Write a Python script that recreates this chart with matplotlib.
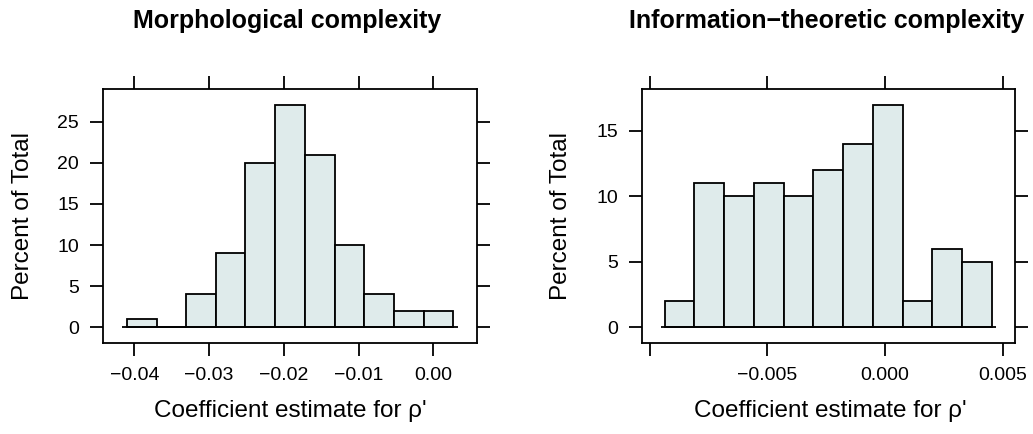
import numpy as np
import matplotlib
matplotlib.use("Agg")
import matplotlib.pyplot as plt

plt.rcParams['font.family'] = ['Liberation Sans', 'DejaVu Sans']

# Datos (porcentaje del total por clase)
morph_edges = [-0.04104, -0.03703, -0.03306, -0.02910, -0.02517, -0.02116,
               -0.01721, -0.01320, -0.00922, -0.00525, -0.00130, 0.00267]
morph_pct = [1, 0, 4, 9, 20, 27, 21, 10, 4, 2, 2]

info_edges = [-0.009349, -0.008116, -0.006829, -0.005567, -0.004305, -0.003047,
              -0.001785, -0.000510, 0.000752, 0.001997, 0.003272, 0.004534]
info_pct = [2, 11, 10, 11, 10, 12, 14, 17, 2, 6, 5]

morph_xticks = [-0.04, -0.03, -0.02, -0.01, 0.00]
morph_xlabels = ["\u22120.04", "\u22120.03", "\u22120.02", "\u22120.01", "0.00"]
morph_yticks = [0, 5, 10, 15, 20, 25]

info_xticks = [-0.010, -0.005, 0.000, 0.005]
info_xlabels = ["", "\u22120.005", "0.000", "0.005"]
info_yticks = [0, 5, 10, 15]

FILL = "#DFEBEB"
W, H = 1033, 434
LW = 1.3


def draw_hist(ax, edges, pct, xlim, ylim, xticks, xlabels, yticks):
    edges = np.asarray(edges)
    widths = np.diff(edges)
    ax.bar(edges[:-1], pct, width=widths, align='edge', color=FILL,
           edgecolor='black', linewidth=LW, zorder=2)
    pad = 0.15 * widths.mean()
    ax.hlines(0, edges[0] - pad, edges[-1] + pad, color='black', lw=LW, zorder=3)
    ax.set_xlim(*xlim)
    ax.set_ylim(*ylim)
    ax.set_xticks(xticks)
    ax.set_xticklabels(xlabels)
    ax.set_yticks(yticks)
    ax.tick_params(direction='out', length=9.4, width=LW, labelsize=14,
                   top=True, right=True, labeltop=False, labelright=False)
    ax.tick_params(axis='x', pad=8)
    ax.tick_params(axis='y', pad=8)
    for s in ax.spines.values():
        s.set_linewidth(LW)


fig = plt.figure(figsize=(W / 100, H / 100), dpi=100)

ax1 = fig.add_axes([103 / W, 1 - 343 / H, (477 - 103) / W, (343 - 89) / H])
draw_hist(ax1, morph_edges, morph_pct, (-0.04419, 0.005846), (-1.91, 28.97),
          morph_xticks, morph_xlabels, morph_yticks)

ax2 = fig.add_axes([642 / W, 1 - 343 / H, (1015 - 642) / W, (343 - 89) / H])
draw_hist(ax2, info_edges, info_pct, (-0.010326, 0.005524), (-1.2, 18.2),
          info_xticks, info_xlabels, info_yticks)

# Titulos y etiquetas
for cx, title in [(287, "Morphological complexity"),
                  (827, "Information\u2212theoretic complexity")]:
    fig.text(cx / W, 1 - 28 / H, title, ha='center', va='baseline',
             fontsize=18, fontweight='bold')
    fig.text((cx + 3) / W, 1 - 417 / H, "Coefficient estimate for \u03c1'",
             ha='center', va='baseline', fontsize=17.5)

for cx in [23, 561]:
    fig.text(cx / W, 1 - 216 / H, "Percent of Total", rotation=90,
             ha='center', va='center', fontsize=17.5)

fig.savefig("out.png", dpi=100)
